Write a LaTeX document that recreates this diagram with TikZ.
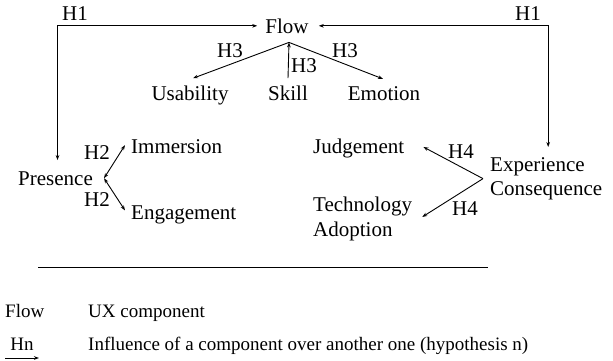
\documentclass[tikz,border=0pt]{standalone}
\usepackage{fontspec}
\setmainfont{Liberation Serif}
\usetikzlibrary{arrows.meta}
\begin{document}
\begin{tikzpicture}[x=1pt,y=-1pt,
  lbl/.style={inner sep=0pt, font=\fontsize{21}{24.5}\selectfont},
  leg/.style={inner sep=0pt, font=\fontsize{19}{23}\selectfont},
  arr/.style={-{Stealth[length=5pt,width=3.6pt]}, line width=0.9pt},
  darr/.style={{Stealth[length=5pt,width=3.6pt]}-{Stealth[length=5pt,width=3.6pt]}, line width=0.9pt},
  rule/.style={line width=0.9pt}]
\useasboundingbox (0,0) rectangle (613,360);
% nodes
\node[lbl, anchor=base] (flow) at (287,33) {Flow};
\node[lbl, anchor=base] (h1l) at (75,20) {H1};
\node[lbl, anchor=base] (h1r) at (528,20) {H1};
\node[lbl, anchor=base] (usab) at (190,100) {Usability};
\node[lbl, anchor=base] (skill) at (288,100) {Skill};
\node[lbl, anchor=base] (emo) at (384,100) {Emotion};
\node[lbl, anchor=base] (h3a) at (230,57) {H3};
\node[lbl, anchor=base west] (h3b) at (291,72) {H3};
\node[lbl, anchor=base] (h3c) at (345,57) {H3};
\node[lbl, anchor=base west] (pres) at (18,185) {Presence};
\node[lbl, anchor=base west] (imm) at (131,153) {Immersion};
\node[lbl, anchor=base west] (eng) at (131,219) {Engagement};
\node[lbl, anchor=base] (h2a) at (97,159) {H2};
\node[lbl, anchor=base] (h2b) at (97,206) {H2};
\node[lbl, anchor=base west] (judg) at (313,153) {Judgement};
\node[lbl, anchor=north west, align=left] (tech) at (313,197) {Technology\\Adoption};
\node[lbl, anchor=north west, align=left] (exp) at (490,157) {Experience\\Consequence};
\node[lbl, anchor=base] (h4a) at (461,158) {H4};
\node[lbl, anchor=base] (h4b) at (465,215) {H4};
% legend
\node[leg, anchor=base west] (lflow) at (5,317) {Flow};
\node[leg, anchor=base west] (lux) at (88,317) {UX component};
\node[leg, anchor=base] (lhn) at (22,350) {Hn};
\node[leg, anchor=base west] (linf) at (88,350) {Influence of a component over another one (hypothesis n)};
% coordinates
\coordinate (fp) at ([xshift=2pt,yshift=-9pt]flow.south);
\coordinate (pp) at ([xshift=11pt]pres.east);
\coordinate (ep) at ([xshift=-7pt]exp.west);
\coordinate (rulel) at (38,267);
\coordinate (ruler) at (488,267);
% connectors
\draw[darr] ([xshift=-8pt]flow.west) -| ([xshift=2pt,yshift=11pt]pres.north);
\draw[darr] ([xshift=10pt]flow.east) -| ([xshift=2pt,yshift=10pt]exp.north);
\draw[arr] (fp) -- ([xshift=3pt,yshift=7pt]usab.north);
\draw[arr] ([yshift=7pt]skill.north) -- (fp);
\draw[arr] (fp) -- ([xshift=-1pt,yshift=7pt]emo.north);
\draw[darr] (pp) -- ([xshift=-6pt,yshift=1pt]imm.west);
\draw[darr] (pp) -- ([xshift=-6pt,yshift=4pt]eng.west);
\draw[arr] (ep) -- ([xshift=19pt,yshift=1pt]judg.east);
\draw[arr] (ep) -- ([xshift=10pt,yshift=2pt]tech.east);
\draw[rule] (rulel) -- (ruler);
\draw[arr] ([xshift=-17pt,yshift=-8pt]lhn.base) -- ([xshift=17pt,yshift=-8pt]lhn.base);
\end{tikzpicture}
\end{document}
